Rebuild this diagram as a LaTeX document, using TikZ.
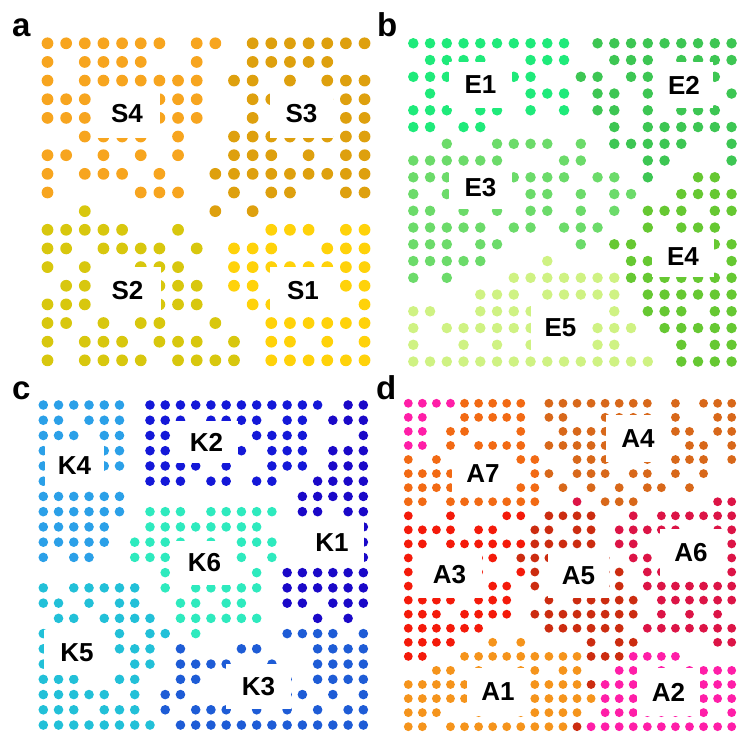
\documentclass[tikz,border=0pt]{standalone}
\usepackage{fontspec}
\setmainfont{Liberation Sans}
\usepackage{xcolor}
\usepackage{tikz}
% panel a
\definecolor{dotO}{RGB}{247,165,31}
\definecolor{dotG}{RGB}{222,160,14}
\definecolor{dotY}{RGB}{216,199,14}
\definecolor{dotW}{RGB}{255,210,10}
% panel b
\definecolor{dotA}{RGB}{31,234,122}
\definecolor{dotB}{RGB}{61,198,83}
\definecolor{dotC}{RGB}{108,219,106}
\definecolor{dotD}{RGB}{102,200,50}
\definecolor{dotE}{RGB}{207,242,131}
% panel c
\definecolor{dotL}{RGB}{43,160,232}
\definecolor{dotM}{RGB}{20,24,216}
\definecolor{dotN}{RGB}{26,8,200}
\definecolor{dotP}{RGB}{46,234,190}
\definecolor{dotQ}{RGB}{34,192,216}
\definecolor{dotR}{RGB}{30,92,214}
% panel d
\definecolor{dotp}{RGB}{255,30,168}
\definecolor{dota}{RGB}{242,106,20}
\definecolor{dotb}{RGB}{216,104,26}
\definecolor{dotc}{RGB}{220,20,70}
\definecolor{dotr}{RGB}{244,26,10}
\definecolor{dotd}{RGB}{204,44,16}
\definecolor{doto}{RGB}{245,148,28}

% one row of dots, one letter per column, - for no dot
\newcommand{\dotrow}[1]{\def\dcol{0}\dotnext#1\relax}
\def\dotnext#1{%
  \ifx#1\relax\else
    \ifx#1-\else
      \fill[fill=dot#1] (\gx+\dcol*\gs, \gy+\row*\gs) circle[radius=0.315*\gs];
    \fi
    \edef\dcol{\the\numexpr\dcol+1\relax}%
    \expandafter\dotnext
  \fi}
\newcommand{\dotpanel}[4]{%
  \def\gx{#1}\def\gy{#2}\def\gs{#3}%
  \foreach \pat [count=\row from 0] in {#4}{\expandafter\dotrow\expandafter{\pat}}}

\begin{document}
\begin{tikzpicture}[x=1pt, y=-1pt,
    tagbox/.style={fill=white, inner sep=0pt, font=\fontsize{26}{26}\selectfont\bfseries},
    panelletter/.style={anchor=base west, inner sep=0pt, font=\fontsize{33}{33}\selectfont\bfseries}]
\useasboundingbox (0,0) rectangle (740,735);

% panel a
\dotpanel{47.5}{43.3}{18.65}{
  OOOOOOO-OO-GGGGGGG,
  O-OOOO--O--GGGGG--,
  O-OOOOOOO-GG-G-GGG,
  OOO---OOO--GG--GGG,
  OOO---OOO--G----GG,
  --OOOO-O--GGGGGGGG,
  OO-O-O-O--GGG-G-GG,
  O-OOO-O--GGGGGGGGG,
  O----OOO--G-GG--GG,
  --Y------G-G------,
  YYYYY--Y----WWW-WW,
  YY-YYYY-Y-WWW--WWW,
  Y-Y--YYY--WWWWWWWW,
  -YY---YYY-WW----WW,
  YYY---YYY--WW----W,
  YY-Y-YY--Y--WWWWWW,
  Y-YYY-YYY-Y-WW-W-W,
  Y-YYYY-YYYY-WWWWWW}
\node[panelletter] (pa) at (12,37) {a};
\node[tagbox, minimum width=66, minimum height=48] (s4) at (127,114) {S4};
\node[tagbox, minimum width=63, minimum height=48] (s3) at (301.5,114) {S3};
\node[tagbox, minimum width=67, minimum height=48] (s2) at (127.5,291) {S2};
\node[tagbox, minimum width=66, minimum height=48] (s1) at (303,291) {S1};

% panel b
\dotpanel{413.3}{43.3}{16.75}{
  AAAAAAAAAA-BBBBBBBBB,
  -AAAA--AAA--BBB-BBBB,
  AAA---AA--BB-BB---B-,
  -A-----AAA-BB-B----B,
  AAA-AA-A-A-BB-B-BBB-,
  AA-AA-------B-BBBBBB,
  --C--CCCC-C-BBBBB--B,
  CCCCCC---CC---BB---B,
  CCC---CCCC-CC-B--DD-,
  C-C----CC-C-CC--DDDD,
  CC-C-C-CC-C-C-DDD-DD,
  CCCCC-CC-CCC--D-DDD-,
  CCC-CC----C-DD----DD,
  CCCCC---E----DD----D,
  C-C---EEEEEEEDDDDDDD,
  ----EEE-EEEEE-DDDDDD,
  EE--EEEE----E-DDD-DD,
  E-EEEEEE---EEE-DDDDD,
  E--E-E-E---EE---D-DD,
  EEEEEEEEEEEEEEE-DDDD}
\node[panelletter] (pb) at (377,37) {b};
\node[tagbox, minimum width=63, minimum height=46] (e1) at (480.5,85) {E1};
\node[tagbox, minimum width=58, minimum height=46] (e2) at (684,85) {E2};
\node[tagbox, minimum width=63, minimum height=42] (e3) at (480.5,188) {E3};
\node[tagbox, minimum width=62, minimum height=41] (e4) at (683,256.5) {E4};
\node[tagbox, minimum width=59, minimum height=51] (e5) at (560.5,327.5) {E5};

% panel c
\dotpanel{43.3}{405}{15.24}{
  LLLLLL-MMMMMMMMMMMM-NN,
  LL-LLL-MMM-MMMM-MM-NNN,
  LLL-LL-MM-----MMMM---N,
  L---LL-MM----M-MMM-NNN,
  L---LL-MMMM-M--MMM-NNN,
  L------MMM-MM-MM--NNNN,
  LLLLLL-----------NNNNN,
  LLLLLL-PPP-PPPPP-NN-NN,
  LLLLL--PPPPPPPP------N,
  LLLLL-PPPP-P-PPP-----N,
  L-LL--PPP----P-P-----N,
  --------P-----P-NNNNNN,
  Q-QQQQQ-P-PPPPP-NNNNNN,
  QQ-Q-QQ--PP-PP--NN-NNN,
  -QQ-QQQQ-PPPPPP---N-N-,
  Q----Q-QQ-P-----RRRR-R,
  Q----QQQ-R---RR---RRRR,
  Q-----QQ-RRRR--R--RRRR,
  QQQ--QQ--RR-----R-RRRR,
  QQQQQ-Q-RR-----RRR-R-R,
  QQQ-QQQ-R-RRR-R-R-R-RR,
  QQQQQQQQ-RRRRRRRRRRRRR}
\node[panelletter] (pc) at (12,400) {c};
\node[tagbox, minimum width=59, minimum height=48] (k4) at (74.5,466) {K4};
\node[tagbox, minimum width=63, minimum height=42] (k2) at (206.5,442) {K2};
\node[tagbox, minimum width=64, minimum height=48] (k1) at (332,543) {K1};
\node[tagbox, minimum width=63, minimum height=44] (k6) at (204.5,563) {K6};
\node[tagbox, minimum width=66, minimum height=45] (k5) at (77,652.5) {K5};
\node[tagbox, minimum width=65, minimum height=45] (k3) at (258.5,686.5) {K3};

% panel d
\dotpanel{408.3}{403.3}{14.06}{
  ppppaaaaa-bbbbbbbb-b-bbb,
  pp--aaaaa-bb--bbbb-b--bb,
  pp-aa---a--bbbb----bb-bb,
  pp-a-aaaa-bbbbb-----bb-b,
  a-a-----aa--bbb--b-bbb-b,
  aaaa-----ab-bbb-bb-b-b--,
  aaaa----aa-b-b-b-bb-b---,
  aa-aaaaaaa--c-bbb-----cc,
  r--r---rr-dddd--c-cccccc,
  rrrr-rr--dd-dd-ccccc--cc,
  rr-rrrrrrddddd-cc------c,
  r----rr-ddddd-d-cc----cc,
  r----r--rd----dd-cc---cc,
  r-----rr-d----dd-ccccccc,
  rrrr-rrr--d-ddddd-cccccc,
  rrr-rrrr-dddddddd-c-c-c-,
  rrrrrr----dddddd-ccccccc,
  rrrr--o-o----d-dd-----cc,
  rr--ooooooooodddpppp----,
  --oo-o--oo-oo--pp-p-pppp,
  ooooo----oooodppp----ppp,
  ooooo----oooooppp----ppp,
  ooo--o--ooooo-pppppppp-p,
  oo-ooooooooodppppppppppp}
\node[panelletter] (pd) at (376,400) {d};
\node[tagbox, minimum width=64, minimum height=47] (a4) at (638,438.5) {A4};
\node[tagbox, minimum width=62, minimum height=43] (a7) at (483,473.5) {A7};
\node[tagbox, minimum width=65, minimum height=47] (a3) at (449.5,574.5) {A3};
\node[tagbox, minimum width=61, minimum height=45] (a5) at (578.5,575.5) {A5};
\node[tagbox, minimum width=62, minimum height=48] (a6) at (691,553) {A6};
\node[tagbox, minimum width=62, minimum height=48] (a1) at (498,692) {A1};
\node[tagbox, minimum width=63, minimum height=48] (a2) at (668.5,692) {A2};
\end{tikzpicture}
\end{document}
